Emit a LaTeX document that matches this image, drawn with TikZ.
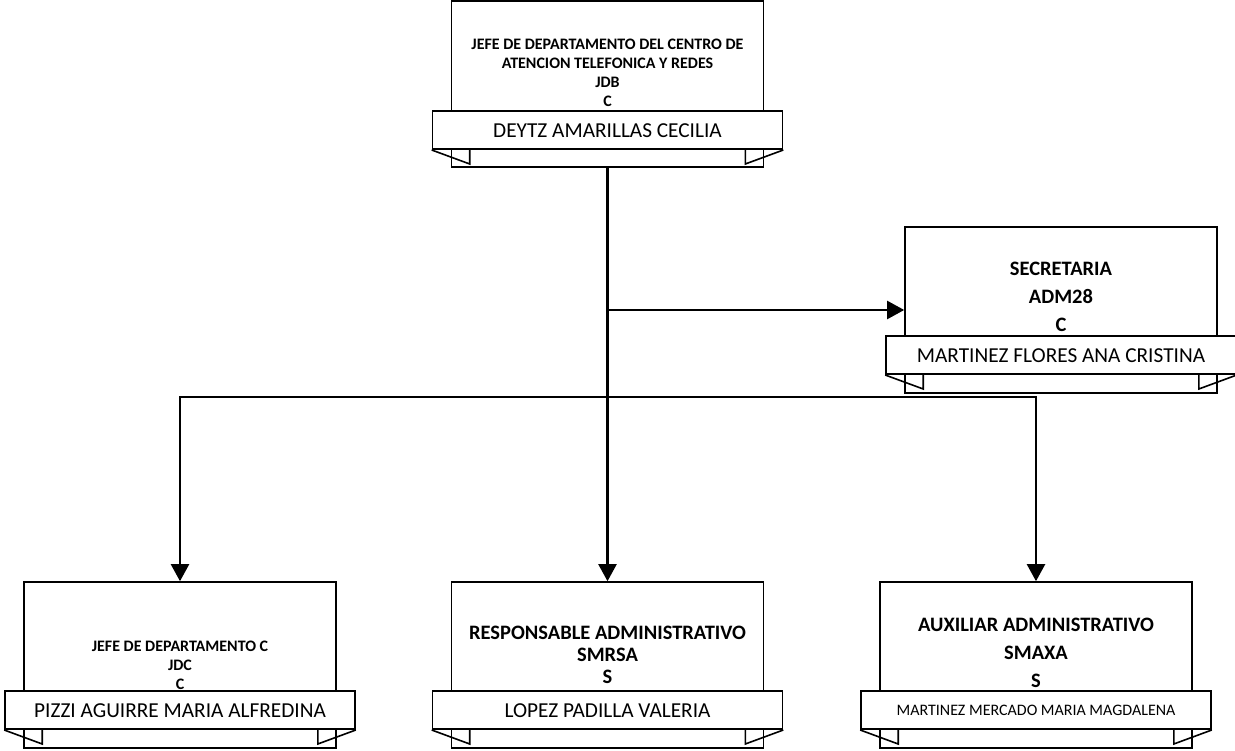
\documentclass[tikz,border=0pt]{standalone}
\usepackage{fontspec}
\setmainfont{Carlito}
\usetikzlibrary{positioning}
\usetikzlibrary{calc}
\usetikzlibrary{arrows.meta}

\begin{document}
\begin{tikzpicture}[x=1pt,y=-1pt]
  \useasboundingbox (0,0) rectangle (1235,751);

  \tikzset{post node/.style={draw, line width=1.6pt, minimum width=312pt, minimum height=166pt, inner sep=0pt}}
  \tikzset{title node/.style={align=center, inner sep=0pt}}
  \tikzset{name node/.style={draw, fill=white, line width=1.6pt, minimum width=350pt, minimum height=38pt, inner sep=0pt}}
  \tikzset{small title/.style={title node, font=\fontsize{16}{19}\selectfont\bfseries}}
  \tikzset{big title/.style={title node, font=\fontsize{20.5}{28}\selectfont\bfseries}}
  \tikzset{link/.style={line width=2.2pt}}
  \tikzset{link arrow/.style={link, -{Triangle[length=17pt,width=18pt]}}}

  % posts
  \node[post node] (jefe) at (607.5,84) {};
  \node[post node] (secr) at (1061,310) {};
  \node[post node] (jdc)  at (180,665) {};
  \node[post node] (resp) at (607.5,665) {};
  \node[post node] (aux)  at (1036,665) {};

  % titles
  \node[small title] (jefe-t) at ($(jefe.north)+(0,73)$) {JEFE DE DEPARTAMENTO DEL CENTRO DE\\ATENCION TELEFONICA Y REDES\\JDB\\C};
  \node[big title] (secr-t) at ($(secr.north)+(0,71)$) {SECRETARIA\\ADM28\\C};
  \node[small title] (jdc-t) at ($(jdc.north)+(0,84)$) {JEFE DE DEPARTAMENTO C\\JDC\\C};
  \node[big title, font=\fontsize{20.5}{22}\selectfont\bfseries] (resp-t) at ($(resp.north)+(0,74)$) {RESPONSABLE ADMINISTRATIVO\\SMRSA\\S};
  \node[big title] (aux-t) at ($(aux.north)+(0,72)$) {AUXILIAR ADMINISTRATIVO\\SMAXA\\S};

  % names
  \node[name node, font=\fontsize{21.3}{22}\selectfont] (jefe-n) at ($(jefe.north)+(0,130)$) {DEYTZ AMARILLAS CECILIA};
  \node[name node, font=\fontsize{21.3}{22}\selectfont] (secr-n) at ($(secr.north)+(0,129)$) {MARTINEZ FLORES ANA CRISTINA};
  \node[name node, font=\fontsize{21.3}{22}\selectfont] (jdc-n) at ($(jdc.north)+(0,129)$) {PIZZI AGUIRRE MARIA ALFREDINA};
  \node[name node, font=\fontsize{21.3}{22}\selectfont] (resp-n) at ($(resp.north)+(0,129)$) {LOPEZ PADILLA VALERIA};
  \node[name node, font=\fontsize{16}{17}\selectfont] (aux-n) at ($(aux.north)+(0,129)$) {MARTINEZ MERCADO MARIA MAGDALENA};

  % ribbon ends
  \foreach \n in {jefe-n,secr-n,jdc-n,resp-n,aux-n} {
    \draw[line width=1.6pt] (\n.south west) -- ++(38,14) -- ++(0,-14);
    \draw[line width=1.6pt] (\n.south east) -- ++(-38,14) -- ++(0,-14);
  }

  % connectors
  \coordinate (bus) at (607.5,397);
  \draw[link arrow] (jefe.south) -- (resp.north);
  \draw[link arrow] (jefe.south |- secr.west) -- (secr.west);
  \draw[link arrow] (bus) -| (jdc.north);
  \draw[link arrow] (bus) -| (aux.north);
\end{tikzpicture}
\end{document}
